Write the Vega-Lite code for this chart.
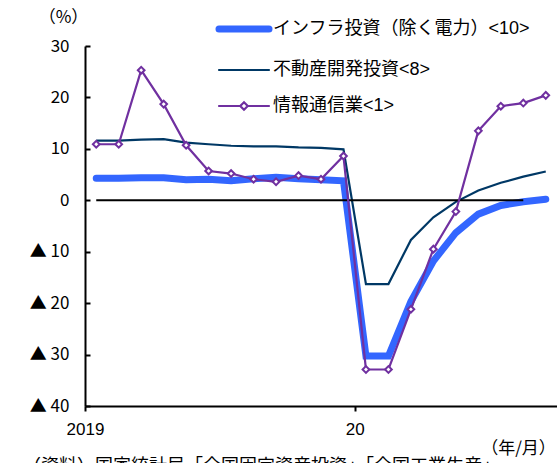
{
  "$schema": "https://vega.github.io/schema/vega-lite/v6.json",
  "autosize": "none",
  "width": 472,
  "height": 360,
  "padding": {"left": 85, "top": 46, "right": 0, "bottom": 57},
  "background": "white",
  "config": {
    "view": {"stroke": null},
    "font": "'Liberation Sans', 'Noto Sans CJK JP', sans-serif",
    "axis": {"grid": false, "domainColor": "black", "tickColor": "black", "labelColor": "black", "titleColor": "black", "domainWidth": 2, "tickWidth": 2}
  },
  "title": {
    "text": "（資料）国家統計局「全国固定資産投資」「全国工業生産」",
    "orient": "bottom",
    "anchor": "start",
    "frame": "group",
    "dx": -62,
    "offset": 2,
    "fontSize": 18,
    "fontWeight": "normal",
    "font": "'Noto Sans CJK JP', sans-serif",
    "color": "black"
  },
  "datasets": {
    "fai": [
      {"month": "2019-01", "series": "インフラ投資（除く電力）<10>", "value": 4.3},
      {"month": "2019-02", "series": "インフラ投資（除く電力）<10>", "value": 4.3},
      {"month": "2019-03", "series": "インフラ投資（除く電力）<10>", "value": 4.4},
      {"month": "2019-04", "series": "インフラ投資（除く電力）<10>", "value": 4.4},
      {"month": "2019-05", "series": "インフラ投資（除く電力）<10>", "value": 4.0},
      {"month": "2019-06", "series": "インフラ投資（除く電力）<10>", "value": 4.1},
      {"month": "2019-07", "series": "インフラ投資（除く電力）<10>", "value": 3.8},
      {"month": "2019-08", "series": "インフラ投資（除く電力）<10>", "value": 4.2},
      {"month": "2019-09", "series": "インフラ投資（除く電力）<10>", "value": 4.5},
      {"month": "2019-10", "series": "インフラ投資（除く電力）<10>", "value": 4.2},
      {"month": "2019-11", "series": "インフラ投資（除く電力）<10>", "value": 4.0},
      {"month": "2019-12", "series": "インフラ投資（除く電力）<10>", "value": 3.8},
      {"month": "2020-01", "series": "インフラ投資（除く電力）<10>", "value": -30.3},
      {"month": "2020-02", "series": "インフラ投資（除く電力）<10>", "value": -30.3},
      {"month": "2020-03", "series": "インフラ投資（除く電力）<10>", "value": -19.7},
      {"month": "2020-04", "series": "インフラ投資（除く電力）<10>", "value": -11.8},
      {"month": "2020-05", "series": "インフラ投資（除く電力）<10>", "value": -6.3},
      {"month": "2020-06", "series": "インフラ投資（除く電力）<10>", "value": -2.7},
      {"month": "2020-07", "series": "インフラ投資（除く電力）<10>", "value": -1.0},
      {"month": "2020-08", "series": "インフラ投資（除く電力）<10>", "value": -0.3},
      {"month": "2020-09", "series": "インフラ投資（除く電力）<10>", "value": 0.2},
      {"month": "2019-01", "series": "不動産開発投資<8>", "value": 11.6},
      {"month": "2019-02", "series": "不動産開発投資<8>", "value": 11.6},
      {"month": "2019-03", "series": "不動産開発投資<8>", "value": 11.8},
      {"month": "2019-04", "series": "不動産開発投資<8>", "value": 11.9},
      {"month": "2019-05", "series": "不動産開発投資<8>", "value": 11.2},
      {"month": "2019-06", "series": "不動産開発投資<8>", "value": 10.9},
      {"month": "2019-07", "series": "不動産開発投資<8>", "value": 10.6},
      {"month": "2019-08", "series": "不動産開発投資<8>", "value": 10.5},
      {"month": "2019-09", "series": "不動産開発投資<8>", "value": 10.5},
      {"month": "2019-10", "series": "不動産開発投資<8>", "value": 10.3},
      {"month": "2019-11", "series": "不動産開発投資<8>", "value": 10.2},
      {"month": "2019-12", "series": "不動産開発投資<8>", "value": 9.9},
      {"month": "2020-01", "series": "不動産開発投資<8>", "value": -16.3},
      {"month": "2020-02", "series": "不動産開発投資<8>", "value": -16.3},
      {"month": "2020-03", "series": "不動産開発投資<8>", "value": -7.7},
      {"month": "2020-04", "series": "不動産開発投資<8>", "value": -3.3},
      {"month": "2020-05", "series": "不動産開発投資<8>", "value": -0.3},
      {"month": "2020-06", "series": "不動産開発投資<8>", "value": 1.9},
      {"month": "2020-07", "series": "不動産開発投資<8>", "value": 3.4},
      {"month": "2020-08", "series": "不動産開発投資<8>", "value": 4.6},
      {"month": "2020-09", "series": "不動産開発投資<8>", "value": 5.6},
      {"month": "2019-01", "series": "情報通信業<1>", "value": 10.9},
      {"month": "2019-02", "series": "情報通信業<1>", "value": 10.9},
      {"month": "2019-03", "series": "情報通信業<1>", "value": 25.3},
      {"month": "2019-04", "series": "情報通信業<1>", "value": 18.7},
      {"month": "2019-05", "series": "情報通信業<1>", "value": 10.7},
      {"month": "2019-06", "series": "情報通信業<1>", "value": 5.7},
      {"month": "2019-07", "series": "情報通信業<1>", "value": 5.2},
      {"month": "2019-08", "series": "情報通信業<1>", "value": 4.1},
      {"month": "2019-09", "series": "情報通信業<1>", "value": 3.6},
      {"month": "2019-10", "series": "情報通信業<1>", "value": 4.8},
      {"month": "2019-11", "series": "情報通信業<1>", "value": 4.1},
      {"month": "2019-12", "series": "情報通信業<1>", "value": 8.6},
      {"month": "2020-01", "series": "情報通信業<1>", "value": -32.9},
      {"month": "2020-02", "series": "情報通信業<1>", "value": -32.9},
      {"month": "2020-03", "series": "情報通信業<1>", "value": -21.2},
      {"month": "2020-04", "series": "情報通信業<1>", "value": -9.5},
      {"month": "2020-05", "series": "情報通信業<1>", "value": -2.2},
      {"month": "2020-06", "series": "情報通信業<1>", "value": 13.5},
      {"month": "2020-07", "series": "情報通信業<1>", "value": 18.3},
      {"month": "2020-08", "series": "情報通信業<1>", "value": 18.9},
      {"month": "2020-09", "series": "情報通信業<1>", "value": 20.4}
    ],
    "zero": [
      {"month": "2019-01", "value": 0},
      {"month": "2020-08", "value": 0}
    ]
  },
  "data": {"name": "fai"},
  "encoding": {
    "x": {
      "field": "month",
      "type": "ordinal",
      "scale": {"type": "band", "paddingInner": 0, "paddingOuter": 0},
      "axis": {
        "values": ["2019-01", "2020-01"],
        "labelExpr": "datum.value === '2019-01' ? '2019' : '20'",
        "labelAngle": 0,
        "labelFontSize": 17,
        "labelPadding": 10,
        "tickSize": 5,
        "tickOffset": -11.24,
        "title": "（年/月）",
        "titleFont": "'Noto Sans CJK JP', sans-serif",
        "titleFontSize": 17,
        "titleFontWeight": "normal",
        "titleAnchor": "start",
        "titleAlign": "center",
        "titleBaseline": "middle",
        "titleX": 433,
        "titleY": 42
      }
    },
    "y": {
      "field": "value",
      "type": "quantitative",
      "scale": {"domain": [-40, 30], "nice": false, "zero": false},
      "axis": {
        "values": [-40, -30, -20, -10, 0, 10, 20, 30],
        "labelExpr": "datum.value < 0 ? '▲ ' + abs(datum.value) : datum.value",
        "labelFont": "'Noto Sans CJK JP', sans-serif",
        "labelFontSize": 17,
        "tickSize": -5,
        "labelPadding": 21,
        "title": "（%）",
        "titleFont": "'Noto Sans CJK JP', sans-serif",
        "titleFontSize": 17,
        "titleFontWeight": "normal",
        "titleAngle": 0,
        "titleAlign": "center",
        "titleBaseline": "middle",
        "titleX": -22,
        "titleY": -29
      }
    },
    "color": {
      "field": "series",
      "type": "nominal",
      "sort": ["インフラ投資（除く電力）<10>", "不動産開発投資<8>", "情報通信業<1>"],
      "scale": {
        "domain": ["インフラ投資（除く電力）<10>", "不動産開発投資<8>", "情報通信業<1>"],
        "range": ["#3366FF", "#003865", "#7030A0"]
      },
      "legend": {
        "orient": "none",
        "legendX": 150,
        "legendY": -26,
        "title": null,
        "direction": "vertical",
        "symbolSize": 100,
        "symbolType": "stroke",
        "labelFont": "'Liberation Sans', 'Noto Sans CJK JP', sans-serif",
        "labelFontSize": 18,
        "labelColor": "black",
        "labelOffset": 20,
        "labelLimit": 400,
        "rowPadding": 18,
        "encode": {
          "symbols": {
            "update": {
              "shape": {"signal": "datum.value === '情報通信業<1>' ? 'M-5,0H-0.75M0.75,0H5M0,-0.75L0.75,0L0,0.75L-0.75,0Z' : 'M-5,0H5'"},
              "strokeWidth": {"signal": "datum.value === 'インフラ投資（除く電力）<10>' ? 7 : 2.2"},
              "fill": {"signal": "datum.value === '情報通信業<1>' ? 'white' : 'transparent'"},
              "strokeCap": {"value": "round"},
              "opacity": {"value": 1}
            }
          }
        }
      }
    }
  },
  "layer": [
    {
      "transform": [{"filter": "datum.series === 'インフラ投資（除く電力）<10>'"}],
      "mark": {"type": "line", "strokeWidth": 7, "strokeJoin": "miter", "strokeCap": "round"}
    },
    {
      "transform": [{"filter": "datum.series === '不動産開発投資<8>'"}],
      "mark": {"type": "line", "strokeWidth": 2.2}
    },
    {
      "data": {"name": "zero"},
      "mark": {"type": "line", "color": "black", "strokeWidth": 2},
      "encoding": {
        "x": {"field": "month", "type": "ordinal"},
        "y": {"field": "value", "type": "quantitative"},
        "color": {"value": "black"}
      }
    },
    {
      "transform": [{"filter": "datum.series === '情報通信業<1>'"}],
      "mark": {"type": "line", "strokeWidth": 2.2}
    },
    {
      "transform": [{"filter": "datum.series === '情報通信業<1>'"}],
      "mark": {"type": "point", "shape": "diamond", "filled": true, "fill": "white", "stroke": "#7030A0", "strokeWidth": 2, "size": 45, "opacity": 1},
      "encoding": {"color": {"value": "#7030A0"}}
    }
  ]
}
